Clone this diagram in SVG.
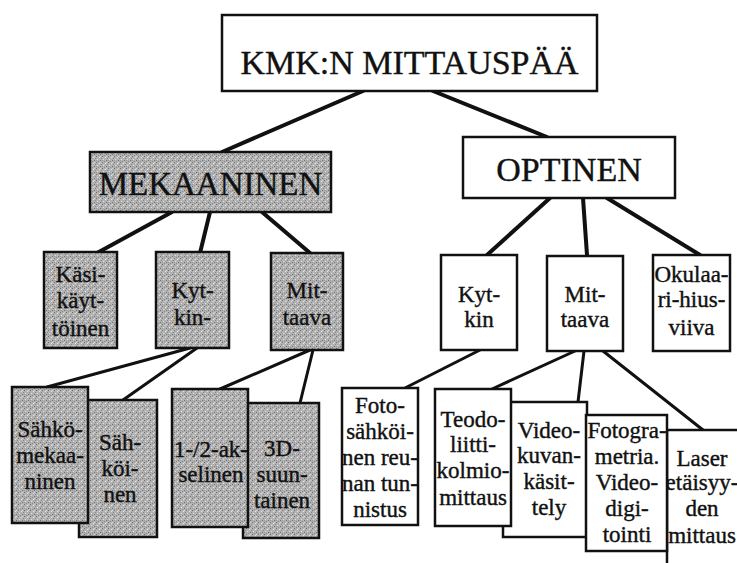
<svg xmlns="http://www.w3.org/2000/svg" width="737" height="563" viewBox="0 0 737 563">
<style>
.box{stroke:#111;stroke-width:2.5;fill:#fff}
.g{fill:url(#stip)}
text{fill:#111;text-anchor:middle;stroke:#111;stroke-width:0.4}
.big{font-size:34px}
.s{font-size:23px}
.ln{stroke:#111;stroke-width:4;fill:none;stroke-linecap:round}
.ln2{stroke:#111;stroke-width:3;fill:none;stroke-linecap:round}
</style>
<defs>
<pattern id="stip" width="6" height="6" patternUnits="userSpaceOnUse">
<rect width="6" height="6" fill="#b2b2b2"/>
<rect x="0" y="0" width="1" height="1" fill="#6e6e6e"/>
<rect x="3" y="1" width="1" height="1" fill="#e6e6e6"/>
<rect x="1" y="3" width="1" height="1" fill="#e0e0e0"/>
<rect x="4" y="4" width="1" height="1" fill="#707070"/>
<rect x="2" y="5" width="1" height="1" fill="#8a8a8a"/>
<rect x="5" y="2" width="1" height="1" fill="#888"/>
<rect x="4" y="0" width="1" height="1" fill="#d4d4d4"/>
<rect x="0" y="4" width="1" height="1" fill="#9a9a9a"/>
</pattern>
</defs>
<rect width="737" height="563" fill="#fff"/>
<g id="connectors">
<line class="ln" x1="363" y1="91" x2="222" y2="152"/>
<line class="ln" x1="433" y1="91" x2="547" y2="137"/>
<line class="ln" x1="172" y1="212" x2="97" y2="253"/>
<line class="ln" x1="210" y1="212" x2="200" y2="253"/>
<line class="ln" x1="262" y1="212" x2="310" y2="253"/>
<line class="ln" x1="550" y1="198" x2="487" y2="255"/>
<line class="ln" x1="583" y1="198" x2="587" y2="255"/>
<line class="ln" x1="607" y1="198" x2="700" y2="255"/>
<line class="ln2" x1="190" y1="348" x2="47" y2="387"/>
<line class="ln2" x1="197" y1="348" x2="123" y2="400"/>
<line class="ln2" x1="310" y1="350" x2="220" y2="389"/>
<line class="ln2" x1="313" y1="350" x2="300" y2="403"/>
<line class="ln2" x1="480" y1="350" x2="405" y2="388"/>
<line class="ln2" x1="575" y1="351" x2="492" y2="389"/>
<line class="ln2" x1="584" y1="351" x2="578" y2="402"/>
<line class="ln2" x1="603" y1="351" x2="703" y2="430"/>
</g>
<g font-family="Liberation Serif, Times New Roman, serif">
<g id="root">
<rect class="box" x="222" y="15" width="375" height="76"/>
<text class="big" x="409.5" y="74">KMK:N MITTAUSPÄÄ</text>
</g>
<g id="mekaaninen">
<rect class="box g" x="90" y="152" width="241" height="60"/>
<text x="210.5" y="195" font-size="33">MEKAANINEN</text>
</g>
<g id="optinen">
<rect class="box" x="463" y="137" width="212" height="61"/>
<text class="big" x="569" y="181">OPTINEN</text>
</g>
<g id="kasikayttoinen">
<rect class="box g" x="44" y="252" width="73" height="96"/>
<text class="s" x="80.5" y="282">Käsi-</text>
<text class="s" x="80.5" y="308">käyt-</text>
<text class="s" x="80.5" y="336">töinen</text>
</g>
<g id="mek-kytkin">
<rect class="box g" x="156" y="252" width="73" height="96"/>
<text class="s" x="192.5" y="298">Kyt-</text>
<text class="s" x="192.5" y="325">kin-</text>
</g>
<g id="mek-mittaava">
<rect class="box g" x="271" y="253" width="72" height="97"/>
<text class="s" x="307" y="298">Mit-</text>
<text class="s" x="307" y="325">taava</text>
</g>
<g id="opt-kytkin">
<rect class="box" x="441" y="255" width="76" height="95"/>
<text class="s" x="479" y="302">Kyt-</text>
<text class="s" x="479" y="327">kin</text>
</g>
<g id="opt-mittaava">
<rect class="box" x="547" y="256" width="76" height="95"/>
<text class="s" x="585" y="302">Mit-</text>
<text class="s" x="585" y="327">taava</text>
</g>
<g id="okulaari">
<rect class="box" x="653" y="255" width="77" height="96"/>
<text class="s" x="691.5" y="282">Okulaa-</text>
<text class="s" x="691.5" y="307">ri-hius-</text>
<text class="s" x="691.5" y="335">viiva</text>
</g>
<g id="sahkoinen">
<rect class="box g" x="79" y="400" width="78" height="137"/>
<text class="s" x="120" y="450">Säh-</text>
<text class="s" x="120" y="476">köi-</text>
<text class="s" x="120" y="502">nen</text>
</g>
<g id="sahkomekaaninen">
<rect class="box g" x="12" y="387" width="76" height="136"/>
<text class="s" x="50" y="437">Sähkö-</text>
<text class="s" x="50" y="463">mekaa-</text>
<text class="s" x="50" y="489">ninen</text>
</g>
<g id="suuntainen3d">
<rect class="box g" x="243" y="403" width="76" height="135"/>
<text class="s" x="282" y="456">3D-</text>
<text class="s" x="282" y="482">suun-</text>
<text class="s" x="282" y="508">tainen</text>
</g>
<g id="akselinen">
<rect class="box g" x="172" y="389" width="76" height="138"/>
<text class="s" x="211" y="457">1-/2-ak-</text>
<text class="s" x="211" y="482">selinen</text>
</g>
<g id="fotosahkoinen">
<rect class="box" x="342" y="388" width="76" height="137"/>
<text class="s" x="380" y="413">Foto-</text>
<text class="s" x="380" y="439">sähköi-</text>
<text class="s" x="380" y="465">nen reu-</text>
<text class="s" x="380" y="491">nan tun-</text>
<text class="s" x="380" y="517">nistus</text>
</g>
<g id="laser">
<rect class="box" x="667" y="430" width="90" height="150"/>
<text class="s" x="702" y="466">Laser</text>
<text class="s" x="702" y="490">etäisyy-</text>
<text class="s" x="702" y="516">den</text>
<text class="s" x="702" y="543">mittaus</text>
</g>
<g id="videokuvankasittely">
<rect class="box" x="503" y="402" width="84" height="135"/>
<text class="s" x="549" y="438">Video-</text>
<text class="s" x="549" y="463">kuvan-</text>
<text class="s" x="549" y="489">käsit-</text>
<text class="s" x="549" y="515">tely</text>
</g>
<g id="fotogrammetria">
<rect class="box" x="586" y="415" width="81" height="136"/>
<text class="s" x="627" y="438">Fotogra-</text>
<text class="s" x="627" y="464">metria.</text>
<text class="s" x="627" y="490">Video-</text>
<text class="s" x="627" y="516">digi-</text>
<text class="s" x="627" y="542">tointi</text>
</g>
<g id="teodoliitti">
<rect class="box" x="435" y="389" width="76" height="137"/>
<text class="s" x="473" y="427">Teodo-</text>
<text class="s" x="473" y="452">liitti-</text>
<text class="s" x="473" y="478">kolmio-</text>
<text class="s" x="473" y="505">mittaus</text>
</g>
</g>
</svg>
